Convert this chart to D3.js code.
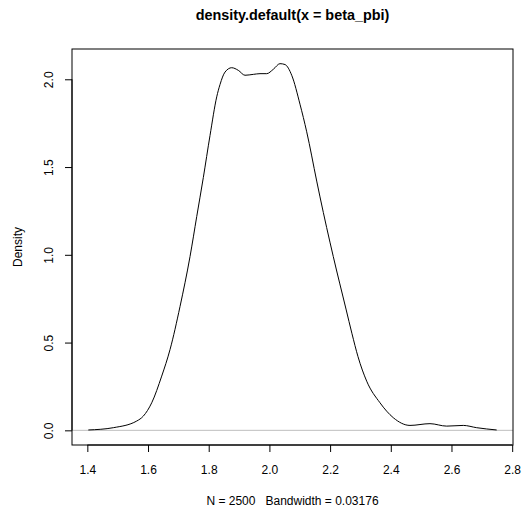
<!DOCTYPE html>
<html>
<head>
<meta charset="utf-8">
<script src="https://cdn.jsdelivr.net/npm/d3@7"></script>
<style>
  body { margin: 0; background: #fff; }
  svg { display: block; }
  text { font-family: "Liberation Sans", Arial, Helvetica, sans-serif; }
</style>
</head>
<body>
<svg id="chart" width="524" height="513"></svg>
<script>
// Density estimate
const xs = [1.4033, 1.4857, 1.5628, 1.5845, 1.6122, 1.6451, 1.6725, 1.7054, 1.7384, 1.7605,
            1.7822, 1.8043, 1.8264, 1.8372, 1.8537, 1.8758, 1.8975, 1.9196, 1.9470, 1.9690,
            1.9911, 2.0129, 2.0349, 2.0514, 2.0735, 2.1008, 2.1229, 2.1559, 2.1667, 2.2105,
            2.2524, 2.2722, 2.2919, 2.3206, 2.3644, 2.4082, 2.4633, 2.5292, 2.5842, 2.6389,
            2.6830, 2.7489];
const ys = [0.002, 0.015, 0.053, 0.081, 0.157, 0.309, 0.460, 0.705, 0.990, 1.218,
            1.440, 1.680, 1.900, 1.970, 2.041, 2.066, 2.051, 2.023, 2.028, 2.032,
            2.032, 2.057, 2.089, 2.084, 2.023, 1.858, 1.701, 1.420, 1.330, 0.990,
            0.691, 0.550, 0.420, 0.280, 0.157, 0.072, 0.028, 0.038, 0.024, 0.028,
            0.015, 0.002];
const xTicks = [1.4, 1.6, 1.8, 2.0, 2.2, 2.4, 2.6, 2.8];
const yTicks = [0.0, 0.5, 1.0, 1.5, 2.0];
const titleText = "density.default(x = beta_pbi)";
const xLabelText = "N = 2500   Bandwidth = 0.03176";
const yLabelText = "Density";

const svg = d3.select("#chart");
const plot = { left: 72, right: 513, top: 49, bottom: 445 };

function extend(ext) {
  const r = ext[1] - ext[0];
  return [ext[0] - 0.04 * r, ext[1] + 0.04 * r];
}
const x = d3.scaleLinear().domain(extend(d3.extent(xs))).range([plot.left, plot.right]);
const y = d3.scaleLinear().domain(extend([0, d3.max(ys)])).range([plot.bottom, plot.top]);

// zero line
svg.append("line")
  .attr("x1", plot.left).attr("x2", plot.right)
  .attr("y1", y(0)).attr("y2", y(0))
  .attr("stroke", "#bebebe").attr("stroke-width", 1);

// curve
const pts = xs.map((v, i) => [v, ys[i]]);
svg.append("path")
  .datum(pts)
  .attr("fill", "none")
  .attr("stroke", "#000")
  .attr("stroke-width", 1)
  .attr("d", d3.line().x(d => x(d[0])).y(d => y(d[1])).curve(d3.curveMonotoneX));

// box
svg.append("rect")
  .attr("x", plot.left).attr("y", plot.top)
  .attr("width", plot.right - plot.left).attr("height", plot.bottom - plot.top)
  .attr("fill", "none").attr("stroke", "#000").attr("stroke-width", 1);

// x axis
const xAxis = d3.axisBottom(x).tickValues(xTicks).tickSize(7).tickPadding(13)
  .tickFormat(d3.format(".1f"));
const gx = svg.append("g").attr("transform", `translate(0,${plot.bottom})`).call(xAxis);
gx.select(".domain").attr("d", `M${x(xTicks[0])},0H${x(xTicks[xTicks.length-1])}`);
gx.selectAll("text").attr("font-size", 12).attr("font-family", '"Liberation Sans", Arial, sans-serif').attr("fill", "#000");
gx.selectAll("line").attr("stroke", "#000");

// y axis
const yAxis = d3.axisLeft(y).tickValues(yTicks).tickSize(7).tickPadding(0)
  .tickFormat(d3.format(".1f"));
const gy = svg.append("g").attr("transform", `translate(${plot.left},0)`).call(yAxis);
gy.select(".domain").attr("d", `M0,${y(yTicks[0])}V${y(yTicks[yTicks.length-1])}`);
gy.selectAll("line").attr("stroke", "#000");
gy.selectAll("text")
  .attr("font-size", 12).attr("font-family", '"Liberation Sans", Arial, sans-serif').attr("fill", "#000")
  .attr("x", null).attr("dy", null)
  .attr("text-anchor", "middle")
  .attr("transform", `translate(${53 - plot.left},0) rotate(-90)`);

// title
svg.append("text")
  .attr("x", (plot.left + plot.right) / 2).attr("y", 20)
  .attr("text-anchor", "middle")
  .attr("font-size", 14.4).attr("font-weight", "bold")
  .text(titleText);

// x label
svg.append("text")
  .attr("x", (plot.left + plot.right) / 2).attr("y", 505)
  .attr("text-anchor", "middle")
  .attr("font-size", 12)
  .attr("xml:space", "preserve")
  .style("white-space", "pre")
  .text(xLabelText);

// y label
svg.append("text")
  .attr("transform", `translate(21.5,${(plot.top + plot.bottom) / 2}) rotate(-90)`)
  .attr("text-anchor", "middle")
  .attr("font-size", 12)
  .text(yLabelText);
</script>
</body>
</html>
